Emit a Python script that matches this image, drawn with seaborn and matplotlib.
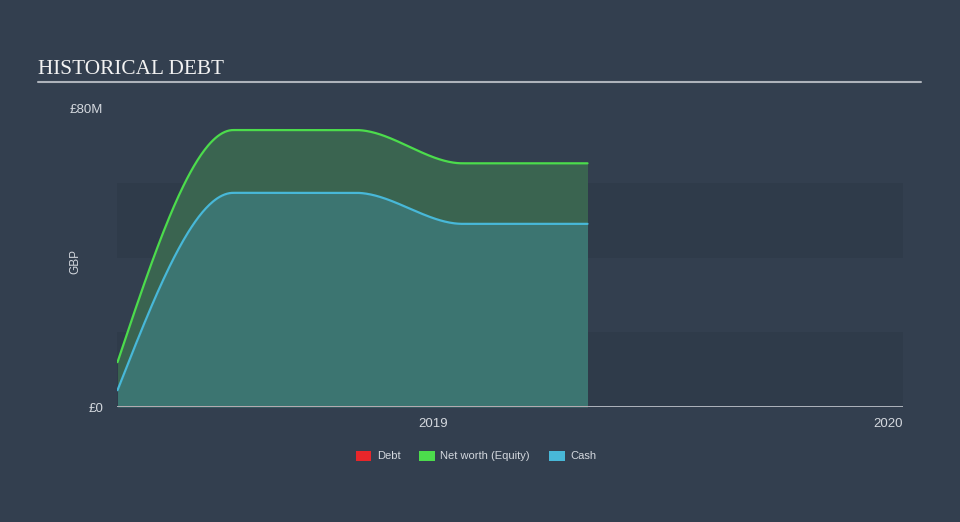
import numpy as np
import pandas as pd
import matplotlib
matplotlib.use("Agg")
import matplotlib.pyplot as plt
import matplotlib.dates as mdates
from matplotlib.patches import Patch
from matplotlib.lines import Line2D
import seaborn as sns

# ---- data (GBP millions) ----
dates = ["2018-05-01", "2018-07-30", "2018-11-02", "2019-01-24", "2019-05-01"]
net_worth = [12.0, 74.1, 74.1, 65.2, 65.2]
cash = [4.5, 57.3, 57.3, 49.0, 49.0]
debt = [0.0, 0.0, 0.0, 0.0, 0.0]
y_ticks = [0, 80]
y_tick_labels = ["£0", "£80M"]
x_ticks = ["2019-01-01", "2020-01-01"]
x_tick_labels = ["2019", "2020"]
legend_labels = ["Debt", "Net worth (Equity)", "Cash"]
title = "HISTORICAL DEBT"

# ---- styling ----
BG = "#333f4f"
BAND = "#2f3b4a"
C_DEBT = "#e8262a"
C_NW = "#4cdc4c"
C_CASH = "#48b8d8"
F_NW = "#3a6450"
F_CASH = "#3c7571"
TXT = "#d4d8de"

sns.set_style("dark")
plt.rcParams["font.family"] = ["Liberation Sans", "DejaVu Sans"]


def pchip(x, y, xs):
    x = np.asarray(x, float); y = np.asarray(y, float)
    h = np.diff(x); delta = np.diff(y) / h
    n = len(x); d = np.zeros(n)
    for k in range(1, n - 1):
        if delta[k - 1] * delta[k] > 0:
            w1 = 2 * h[k] + h[k - 1]; w2 = h[k] + 2 * h[k - 1]
            d[k] = (w1 + w2) / (w1 / delta[k - 1] + w2 / delta[k])
    def end(h0, h1, d0, d1):
        v = ((2 * h0 + h1) * d0 - h0 * d1) / (h0 + h1)
        if np.sign(v) != np.sign(d0):
            return 0.0
        if np.sign(d0) != np.sign(d1) and abs(v) > 3 * abs(d0):
            return 3 * d0
        return v
    d[0] = end(h[0], h[1], delta[0], delta[1])
    d[-1] = end(h[-1], h[-2], delta[-1], delta[-2])
    idx = np.clip(np.searchsorted(x, xs) - 1, 0, n - 2)
    t = (xs - x[idx]) / h[idx]
    h00 = 2 * t**3 - 3 * t**2 + 1; h10 = t**3 - 2 * t**2 + t
    h01 = -2 * t**3 + 3 * t**2; h11 = t**3 - t**2
    return h00 * y[idx] + h10 * h[idx] * d[idx] + h01 * y[idx + 1] + h11 * h[idx] * d[idx + 1]


xn = mdates.date2num(pd.to_datetime(dates))
xs = np.linspace(xn[0], xn[-1], 400)
nw_s = pchip(xn, net_worth, xs)
cash_s = pchip(xn, cash, xs)
debt_s = pchip(xn, debt, xs)

df = pd.DataFrame({
    "x": np.concatenate([xs, xs, xs]),
    "value": np.concatenate([debt_s, nw_s, cash_s]),
    "series": np.repeat(legend_labels, len(xs)),
})

fig = plt.figure(figsize=(9.6, 5.22), dpi=100, facecolor=BG)
ax = fig.add_axes([117 / 960, 115 / 522, 786 / 960, 299 / 522])
ax.set_facecolor(BG)

# bands
ax.axhspan(0, 20, color=BAND, lw=0, zorder=0)
ax.axhspan(40, 60, color=BAND, lw=0, zorder=0)

ax.fill_between(xs, 0, cash_s, color=F_CASH, lw=0, zorder=1)
ax.fill_between(xs, cash_s, nw_s, color=F_NW, lw=0, zorder=1)

sns.lineplot(data=df[df.series != "Debt"], x="x", y="value", hue="series",
             palette={"Net worth (Equity)": C_NW, "Cash": C_CASH},
             linewidth=1.6, legend=False, ax=ax, zorder=3)

xmin = mdates.date2num(pd.Timestamp("2020-01-01")) - 610.4
xmax = mdates.date2num(pd.Timestamp("2020-01-01"))
ax.set_xlim(xmin, xmax)
ax.set_ylim(0, 80)

ax.axhline(0, color="#c4c8d0", lw=1.2, zorder=4)
sns.lineplot(data=df[df.series == "Debt"], x="x", y="value", color=C_DEBT,
             linewidth=1.0, alpha=0.55, legend=False, ax=ax, zorder=5)

for s in ax.spines.values():
    s.set_visible(False)
ax.grid(False)

ax.set_yticks(y_ticks)
ax.set_yticklabels(y_tick_labels)
ax.tick_params(axis="y", length=0, pad=10, labelsize=9.5, labelcolor=TXT)

ax.set_xticks(mdates.date2num(pd.to_datetime(x_ticks)))
ax.set_xticklabels(x_tick_labels)
ax.tick_params(axis="x", direction="out", length=6.5, width=1, color="#c4c8d0",
               pad=1.5, labelsize=9.5, labelcolor=TXT)
ax.get_xticklabels()[-1].set_ha("right")
ax.set_xlabel("")
ax.set_ylabel("")

fig.text(75 / 960, 1 - 262 / 522, "GBP", rotation=90, ha="center", va="center",
         fontsize=8.5, color=TXT)

fig.text(38 / 960, 1 - 74 / 522, title, ha="left", va="baseline",
         fontsize=15.3, color="#f2f2f2", family=["Liberation Serif", "DejaVu Serif"])
fig.add_artist(Line2D([38 / 960, 921 / 960], [1 - 82 / 522, 1 - 82 / 522],
                      color="#aeb3bb", lw=1.5, transform=fig.transFigure))

handles = [Patch(facecolor=c, edgecolor="none") for c in (C_DEBT, C_NW, C_CASH)]
fig.legend(handles, legend_labels, loc="center", bbox_to_anchor=(476 / 960, 1 - 456 / 522),
           ncol=3, frameon=False, fontsize=8, labelcolor=TXT, handlelength=1.4,
           handleheight=1.0, columnspacing=1.7, handletextpad=0.5)

fig.savefig("out.png", dpi=100, facecolor=BG)
